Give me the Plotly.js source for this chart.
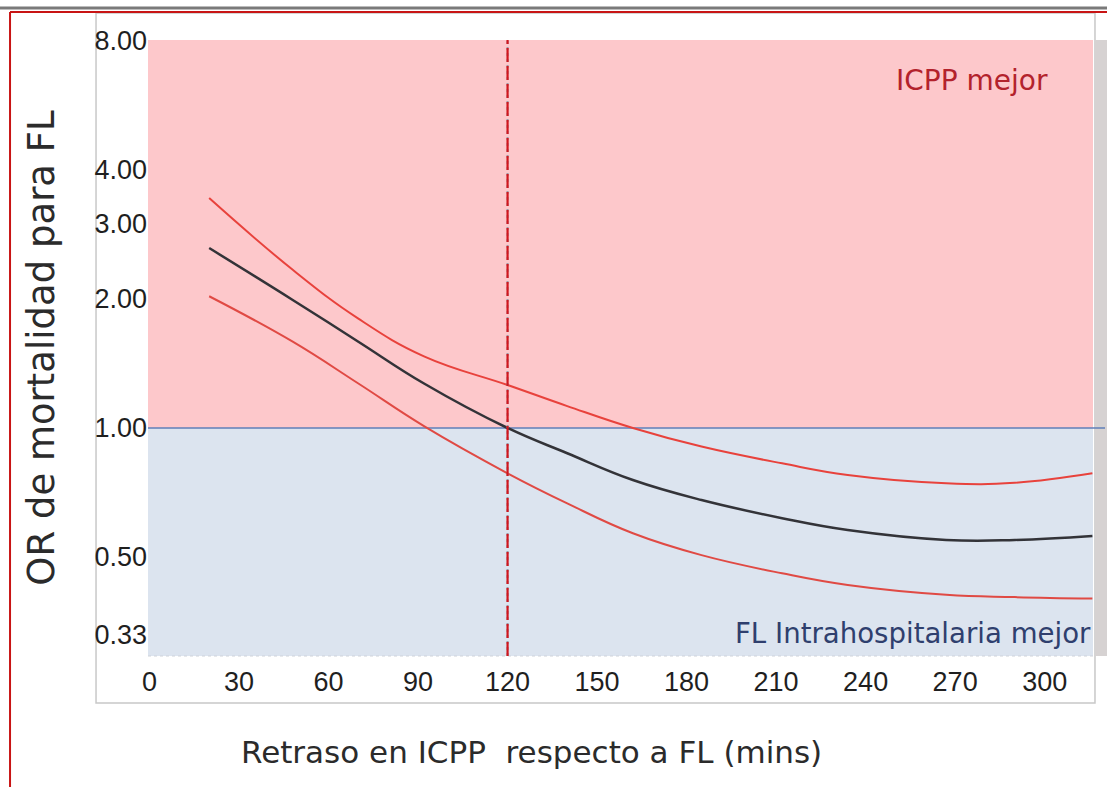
<!DOCTYPE html>
<html>
<head>
<meta charset="utf-8">
<script src="https://cdn.plot.ly/plotly-3.0.1.min.js"></script>
<style>
  html, body { margin: 0; padding: 0; background: #ffffff; }
  #chart { width: 1107px; height: 787px; }
</style>
</head>
<body>
<div id="chart"></div>
<script>
// ---- Data ----
const delay      = [20, 48, 70, 92, 120, 140, 162, 185, 212, 234, 267, 290, 316];
const orEstimate = [2.63, 1.99, 1.59, 1.27, 1.00, 0.873, 0.756, 0.679, 0.616, 0.578, 0.548, 0.548, 0.560];
const orUpper    = [3.44, 2.34, 1.80, 1.47, 1.26, 1.125, 1.00, 0.905, 0.827, 0.777, 0.743, 0.745, 0.784];
const orLower    = [2.03, 1.59, 1.27, 1.01, 0.784, 0.667, 0.568, 0.505, 0.458, 0.430, 0.408, 0.403, 0.400];

const yTickVals  = [0.33, 0.5, 1, 2, 3, 4, 8];
const yTickText  = ["0.33", "0.50", "1.00", "2.00", "3.00", "4.00", "8.00"];
const xTickVals  = [0, 30, 60, 90, 120, 150, 180, 210, 240, 270, 300];
const referenceDelay = 120;
const referenceOR = 1;

const yTitle = "OR de mortalidad para FL";
const xTitle = "Retraso en ICPP\u00a0 respecto a FL (mins)";
const upperLabel = "ICPP mejor";
const lowerLabel = "FL Intrahospitalaria mejor";

// ---- Layout geometry ----
const yMinLog = -0.5321, yMaxLog = 0.9055;
const refPaperY = (Math.log10(referenceOR) - yMinLog) / (yMaxLog - yMinLog);

const tickFont = { family: "Liberation Sans, Arial, sans-serif", size: 27, color: "#1f1f1f" };
const titleFamily = "DejaVu Sans, sans-serif";

const traces = [
  { x: delay, y: orUpper, mode: "lines", line: { color: "#e8423c", width: 2, shape: "spline", smoothing: 1.2 }, hoverinfo: "skip" },
  { x: delay, y: orLower, mode: "lines", line: { color: "#e04a44", width: 2, shape: "spline", smoothing: 1.2 }, hoverinfo: "skip" },
  { x: delay, y: orEstimate, mode: "lines", line: { color: "#333338", width: 2.5, shape: "spline", smoothing: 1.2 }, hoverinfo: "skip" }
];

const layout = {
  width: 1107, height: 787,
  margin: { l: 148, r: 14, t: 40, b: 131 },
  paper_bgcolor: "#ffffff",
  plot_bgcolor: "rgba(0,0,0,0)",
  showlegend: false,
  xaxis: {
    range: [-0.5, 316.2],
    tickvals: xTickVals,
    ticktext: xTickVals.map(String),
    tickfont: tickFont,
    ticklabelstandoff: 7,
    showgrid: false, zeroline: false, showline: false, ticks: ""
  },
  yaxis: {
    type: "log",
    range: [yMinLog, yMaxLog],
    tickvals: yTickVals,
    ticktext: yTickText,
    tickfont: tickFont,
    showgrid: false, zeroline: false, showline: false, ticks: "",
    title: { text: yTitle, font: { family: titleFamily, size: 37, color: "#2b2b2b" }, standoff: 28 }
  },
  shapes: [
    // outer slide frame
    { type: "line", xref: "paper", yref: "paper", x0: -0.16, x1: 1.02, y0: 1.0519, y1: 1.0519, line: { color: "#7a7a7a", width: 3 } },
    { type: "line", xref: "paper", yref: "paper", x0: -0.1460, x1: 1.02, y0: 1.0455, y1: 1.0455, line: { color: "#c81414", width: 2 } },
    { type: "line", xref: "paper", yref: "paper", x0: -0.1460, x1: -0.1460, y0: 1.0455, y1: -0.22, line: { color: "#c81414", width: 2 } },
    // inner graph frame
    { type: "rect", xref: "paper", yref: "paper", x0: -0.0550, x1: 1.0021, y0: -0.0763, y1: 1.0440, line: { color: "#c8c8c8", width: 1.5 }, fillcolor: "rgba(0,0,0,0)", layer: "below" },
    // shaded regions
    { type: "rect", xref: "paper", yref: "paper", x0: 0, x1: 1, y0: refPaperY, y1: 1, line: { width: 0 }, fillcolor: "#fdc8cb", layer: "below" },
    { type: "rect", xref: "paper", yref: "paper", x0: 0, x1: 1, y0: 0, y1: refPaperY, line: { width: 0 }, fillcolor: "#dce4ef", layer: "below" },
    { type: "rect", xref: "paper", yref: "paper", x0: 1.0021, x1: 1.016, y0: 0, y1: 1, line: { width: 0 }, fillcolor: "#d6d2d2", layer: "below" },
    // faint bottom dotted edge
    { type: "line", xref: "paper", yref: "paper", x0: 0, x1: 1, y0: 0, y1: 0, line: { color: "#cfd3da", width: 1, dash: "dot" }, layer: "below" },
    // reference OR = 1 line
    { type: "line", xref: "paper", yref: "paper", x0: 0, x1: 1.0127, y0: refPaperY, y1: refPaperY, line: { color: "#5f7fb8", width: 1.5 }, layer: "below" },
    // reference delay (dashed)
    { type: "line", xref: "x", yref: "paper", x0: referenceDelay, x1: referenceDelay, y0: 0, y1: 1, line: { color: "#9a9aa6", width: 2, dash: "dot" }, layer: "above" },
    { type: "line", xref: "x", yref: "paper", x0: referenceDelay, x1: referenceDelay, y0: 0, y1: 1, line: { color: "#d0161e", width: 2.2, dash: "14px,4px" }, layer: "above" }
  ],
  annotations: [
    // x-axis title (placed left of plot centre, as in the reference)
    { xref: "paper", yref: "paper", x: 0.4063, y: -0.1558, xanchor: "center", yanchor: "middle", showarrow: false,
      text: xTitle, font: { family: titleFamily, size: 31, color: "#2b2b2b" } },
    { xref: "paper", yref: "paper", x: 0.954, y: 0.935, xanchor: "right", yanchor: "middle", showarrow: false,
      text: upperLabel, font: { family: titleFamily, size: 28, color: "#b3222c" } },
    { xref: "paper", yref: "paper", x: 1.0, y: 0.037, xanchor: "right", yanchor: "middle", showarrow: false,
      text: lowerLabel, font: { family: titleFamily, size: 27.6, color: "#2f3f6e" } }
  ]
};

Plotly.newPlot("chart", traces, layout, { displayModeBar: false, staticPlot: true });
</script>
</body>
</html>
